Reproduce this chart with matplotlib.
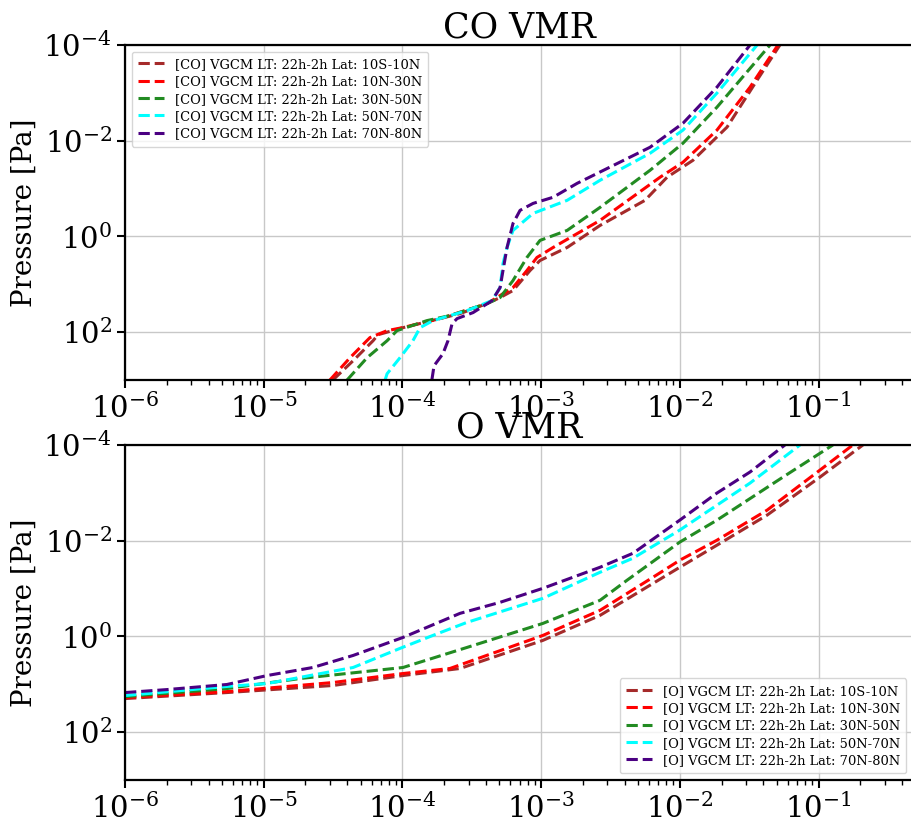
import matplotlib
matplotlib.use("Agg")
import matplotlib.pyplot as plt
from matplotlib.ticker import LogLocator, NullLocator, NullFormatter

plt.rcParams['font.family'] = ['DejaVu Serif']
plt.rcParams['mathtext.fontset'] = 'dejavuserif'

latitudes = ['10S-10N', '10N-30N', '30N-50N', '50N-70N', '70N-80N']
colors = ['brown', 'red', 'forestgreen', 'cyan', 'indigo']

# ---- CO volume mixing ratio profiles (VMR, pressure in Pa) ----
co_10s10n_vmr = [3.15e-5, 4.41e-5, 6.14e-5, 6.67e-5, 1.01e-4, 1.87e-4, 2.6e-4, 4.07e-4, 5.06e-4, 6.27e-4,
                 8.32e-4, 9.82e-4, 1.54e-3, 2.66e-3, 5.61e-3, 8.09e-3, 1.245e-2, 2.19e-2, 3.61e-2, 5.27e-2]
co_10s10n_p = [1000, 395, 151, 113, 80.5, 52, 41, 25.3, 18.9, 13.5,
               5.15, 3.18, 1.70, 0.589, 0.176, 0.058, 0.0256, 5.2e-3, 5.4e-4, 1e-4]

co_10n30n_vmr = [3.0e-5, 4.19e-5, 5.83e-5, 7.75e-5, 1.0e-4, 1.87e-4, 4.07e-4, 6.27e-4, 7.9e-4, 9.33e-4,
                 1.22e-3, 2.66e-3, 7.2e-3, 1.054e-2, 1.853e-2, 3.21e-2, 5.1e-2]
co_10n30n_p = [1000, 342, 130, 93, 80.5, 52, 25.3, 11.7, 5.15, 2.75,
               1.70, 0.462, 0.058, 0.0282, 6.0e-3, 7.6e-4, 1e-4]

co_30n50n_vmr = [3.99e-5, 5.56e-5, 7.75e-5, 9.14e-5, 1.5e-4, 2.2e-4, 4.07e-4, 5.06e-4, 6.27e-4, 7.9e-4,
                 9.82e-4, 1.54e-3, 2.66e-3, 6.1e-3, 1.054e-2, 1.853e-2, 4.47e-2]
co_30n50n_p = [1000, 342, 151, 93, 57.4, 45.1, 25.3, 18.9, 8.34, 2.75,
               1.21, 0.748, 0.247, 0.0415, 0.01127, 1.99e-3, 1e-4]

co_50n70n_vmr = [7.5e-5, 7.75e-5, 9.6e-5, 1.19e-4, 1.34e-4, 1.66e-4, 2.2e-4, 2.92e-4, 4.43e-4, 5.06e-4,
                 5.31e-4, 5.68e-4, 6.27e-4, 8.75e-4, 1.54e-3, 2.66e-3, 6.1e-3, 1.054e-2, 1.853e-2, 3.61e-2]
co_50n70n_p = [1000, 740, 342, 151, 80.5, 57.4, 45.1, 35.5, 21.9, 11.7,
               3.68, 1.70, 0.748, 0.33, 0.176, 0.0671, 0.0183, 6.0e-3, 1.01e-3, 1e-4]

co_70n80n_vmr = [1.63e-4, 1.69e-4, 1.96e-4, 2.13e-4, 2.28e-4, 2.48e-4, 3.23e-4, 4.43e-4, 5.06e-4, 5.31e-4,
                 5.68e-4, 6.27e-4, 7.05e-4, 8.75e-4, 1.22e-3, 1.82e-3, 6.1e-3, 1.054e-2, 1.853e-2, 3.21e-2]
co_70n80n_p = [1000, 503, 282, 151, 66.4, 52, 39, 21.9, 11.7, 5.15,
               1.70, 0.535, 0.285, 0.204, 0.152, 0.0776, 0.0137, 4.31e-3, 7.6e-4, 1e-4]

# ---- O volume mixing ratio profiles ----
o_10s10n_vmr = [1e-6, 5.43e-6, 3.16e-5, 1.01e-4, 2.6e-4, 1.03e-3, 2.66e-3, 1e-2, 1.853e-2, 4.26e-2, 0.1026, 0.209]
o_10s10n_p = [19.9, 14.9, 10.6, 6.56, 4.68, 1.21, 0.363, 0.0359, 0.0124, 2.92e-3, 4.68e-4, 1e-4]

o_10n30n_vmr = [1e-6, 5.43e-6, 3.16e-5, 1.01e-4, 2.2e-4, 1.03e-3, 2.66e-3, 6.41e-3, 1e-2, 1.853e-2, 4.26e-2, 0.1026, 0.177]
o_10n30n_p = [18.9, 14.2, 9.19, 5.96, 4.68, 0.953, 0.285, 0.058, 0.0256, 9.77e-3, 2.3e-3, 3.34e-4, 1e-4]

o_30n50n_vmr = [1e-6, 5.43e-6, 1.83e-5, 1.01e-4, 2.92e-4, 1.03e-3, 2.66e-3, 4.16e-3, 1e-2, 1.853e-2, 5.55e-2, 0.127]
o_30n50n_p = [18.1, 12.3, 7.58, 4.46, 1.70, 0.535, 0.176, 0.0671, 0.0107, 3.72e-3, 4.68e-4, 1e-4]

o_50n70n_vmr = [1e-6, 5.43e-6, 1.06e-5, 4.41e-5, 9.6e-5, 1.66e-4, 2.92e-4, 1.03e-3, 2.66e-3, 4.6e-3,
                1e-2, 1.853e-2, 3.21e-2, 7.36e-2]
o_50n70n_p = [17.2, 11.1, 9.64, 4.46, 1.78, 0.953, 0.509, 0.16, 0.0457, 0.0232,
              6.0e-3, 1.81e-3, 6.25e-4, 1e-4]

o_70n80n_vmr = [1e-6, 2.01e-6, 5.43e-6, 1.06e-5, 2.26e-5, 4.41e-5, 1.01e-4, 2.6e-4, 5.06e-4, 1.03e-3,
                2.66e-3, 4.6e-3, 1e-2, 1.853e-2, 3.21e-2, 5.73e-2]
o_70n80n_p = [14.9, 12.9, 10.1, 6.56, 4.46, 2.5, 1.05, 0.33, 0.194, 0.0989,
              0.0359, 0.0183, 3.72e-3, 1.01e-3, 3.67e-4, 1e-4]

co_profiles = [(co_10s10n_vmr, co_10s10n_p), (co_10n30n_vmr, co_10n30n_p), (co_30n50n_vmr, co_30n50n_p),
               (co_50n70n_vmr, co_50n70n_p), (co_70n80n_vmr, co_70n80n_p)]
o_profiles = [(o_10s10n_vmr, o_10s10n_p), (o_10n30n_vmr, o_10n30n_p), (o_30n50n_vmr, o_30n50n_p),
              (o_50n70n_vmr, o_50n70n_p), (o_70n80n_vmr, o_70n80n_p)]

y_ticks = [1e-4, 1e-2, 1e0, 1e2]

fig = plt.figure(figsize=(9.12, 8.24), dpi=100)
ax_top = fig.add_axes([0.1371, 0.5388, 0.864, 0.4066])
ax_bot = fig.add_axes([0.1371, 0.0534, 0.864, 0.4066])


def draw_panel(ax, profiles, species, title, legend_loc):
    for (vmr, p), lat, c in zip(profiles, latitudes, colors):
        ax.plot(vmr, p, linestyle='--', color=c, linewidth=2.2,
                label=f'[{species}] VGCM LT: 22h-2h Lat: {lat}')
    ax.set_xscale('log')
    ax.set_yscale('log')
    ax.set_xlim(1e-6, 0.48)
    ax.set_ylim(1e3, 1e-4)
    ax.set_yticks(y_ticks)
    ax.yaxis.set_minor_locator(NullLocator())
    ax.xaxis.set_major_locator(LogLocator(base=10, numticks=12))
    ax.xaxis.set_minor_locator(LogLocator(base=10, subs=range(2, 10), numticks=12))
    ax.xaxis.set_minor_formatter(NullFormatter())
    ax.grid(True, which='major', color='#c8c8c8', linewidth=1.0)
    ax.set_axisbelow(True)
    ax.tick_params(axis='both', which='major', labelsize=21, length=6, width=1.5, direction='out')
    ax.tick_params(axis='x', which='minor', length=3.5, width=1.0)
    for side in ['left', 'top', 'bottom']:
        ax.spines[side].set_linewidth(1.6)
    ax.spines['right'].set_visible(False)
    ax.set_ylabel('Pressure [Pa]', fontsize=20)
    ax.set_title(title, fontsize=25, pad=2)
    ax.legend(loc=legend_loc, fontsize=9.4, handlelength=2.0, labelspacing=0.33,
              borderpad=0.5)


draw_panel(ax_top, co_profiles, 'CO', 'CO VMR', 'upper left')
draw_panel(ax_bot, o_profiles, 'O', 'O VMR', 'lower right')

fig.savefig('out.png', dpi=100)
